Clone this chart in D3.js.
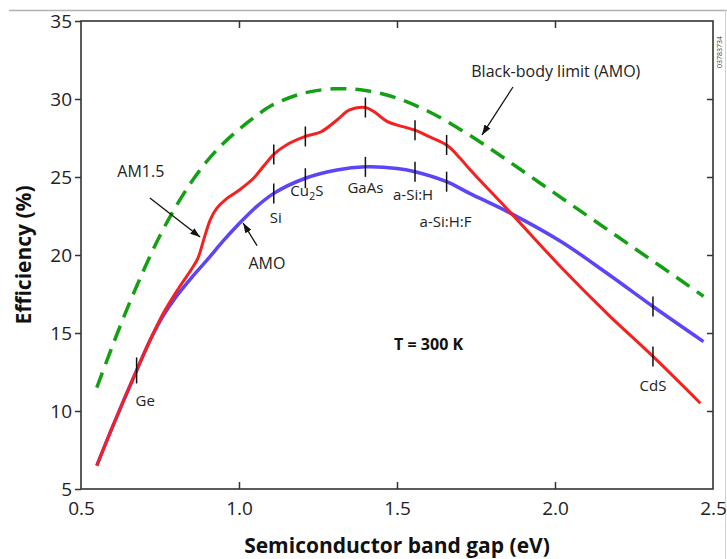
<!DOCTYPE html>
<html>
<head>
<meta charset="utf-8">
<script src="https://cdn.jsdelivr.net/npm/d3@7"></script>
<style>
  body { margin: 0; background: #fff; }
  svg text { font-family: "Open Sans", "Liberation Sans", sans-serif; }
</style>
</head>
<body>
<div id="chart"></div>
<script>
// data
var blackBodyGap = [0.55, 0.6, 0.65, 0.7, 0.75, 0.8, 0.85, 0.9, 0.95, 1.0, 1.05, 1.1, 1.2, 1.3, 1.4, 1.5, 1.6, 1.7, 1.8, 1.9, 2.0, 2.1, 2.2, 2.3, 2.4, 2.47];
var blackBodyEff = [11.5, 14.2, 16.75, 19.1, 21.25, 23.1, 24.7, 26.05, 27.15, 28.05, 28.85, 29.55, 30.35, 30.65, 30.55, 30.05, 29.2, 28.05, 26.75, 25.35, 23.95, 22.55, 21.15, 19.75, 18.35, 17.35];

var am15Gap = [0.55, 0.6, 0.676, 0.72, 0.76, 0.81, 0.85, 0.87, 0.89, 0.91, 0.93, 0.96, 1.0, 1.045, 1.08, 1.11, 1.15, 1.21, 1.26, 1.31, 1.35, 1.4, 1.43, 1.47, 1.557, 1.6, 1.657, 1.7, 1.73, 1.86, 2.02, 2.17, 2.31, 2.46];
var am15Eff = [6.5, 9.0, 12.6, 14.6, 16.25, 17.9, 19.1, 19.8, 21.1, 22.3, 23.0, 23.6, 24.15, 24.9, 25.75, 26.45, 27.05, 27.6, 27.9, 28.65, 29.3, 29.45, 29.15, 28.55, 28.0, 27.6, 27.05, 26.2, 25.5, 22.7, 19.2, 16.15, 13.5, 10.5];

var amoGap = [0.55, 0.6, 0.676, 0.72, 0.76, 0.8, 0.85, 0.9, 0.95, 1.0, 1.05, 1.11, 1.21, 1.31, 1.4, 1.5, 1.557, 1.657, 1.73, 1.86, 2.02, 2.17, 2.31, 2.47];
var amoEff = [6.5, 9.0, 12.6, 14.6, 16.1, 17.3, 18.55, 19.7, 20.9, 22.0, 23.0, 23.95, 24.92, 25.45, 25.65, 25.55, 25.34, 24.7, 23.95, 22.67, 20.85, 18.75, 16.7, 14.45];

var materials = ["Ge", "Si", "Cu2S", "GaAs", "a-Si:H", "a-Si:H:F", "CdS"];
var materialGap = [0.676, 1.11, 1.21, 1.40, 1.557, 1.657, 2.31];
var materialAm15 = [12.6, 26.45, 27.6, 29.45, 28.0, 27.05, 13.5];
var materialAmo = [null, 23.95, 24.92, 25.65, 25.34, 24.7, 16.7];

var xTicks = [0.5, 1.0, 1.5, 2.0, 2.5];
var yTicks = [5, 10, 15, 20, 25, 30, 35];

var width = 727, height = 559;
var margin = {top: 21, right: 14, bottom: 70, left: 81};
var plotW = width - margin.left - margin.right,
    plotH = height - margin.top - margin.bottom;

var svg = d3.select("#chart").append("svg")
    .attr("width", width)
    .attr("height", height);

// grey page edges
svg.append("line").attr("x1", 9).attr("x2", width).attr("y1", 10.5).attr("y2", 10.5)
    .attr("stroke", "#b0b0b0").attr("stroke-width", 1.5);
svg.append("line").attr("x1", 725.5).attr("x2", 725.5).attr("y1", 10).attr("y2", height)
    .attr("stroke", "#d0d0d0").attr("stroke-width", 1);

svg.append("text")
    .attr("transform", "translate(722,68) rotate(-90)")
    .style("font-size", "7px").attr("fill", "#444")
    .text("03783734");

var g = svg.append("g")
    .attr("transform", "translate(" + margin.left + "," + margin.top + ")");

var x = d3.scaleLinear().domain([0.5, 2.5]).range([0, plotW]);
var y = d3.scaleLinear().domain([5, 35]).range([plotH, 0]);

// axes
var axisColor = "#333";
var leftAxis = g.append("g")
    .call(d3.axisLeft(y).tickValues(yTicks).tickSize(6).tickSizeOuter(0).tickPadding(3).tickFormat(d3.format("d")));
var bottomAxis = g.append("g")
    .attr("transform", "translate(0," + plotH + ")")
    .call(d3.axisBottom(x).tickValues(xTicks).tickSize(-7).tickSizeOuter(0).tickPadding(13).tickFormat(d3.format(".1f")));
var topAxis = g.append("g")
    .call(d3.axisTop(x).tickValues([1.0, 1.5, 2.0]).tickSize(-7).tickSizeOuter(0).tickFormat(""));
var rightAxis = g.append("g")
    .attr("transform", "translate(" + plotW + ",0)")
    .call(d3.axisRight(y).tickValues([10, 15, 20, 25, 30]).tickSize(-6).tickSizeOuter(0).tickFormat(""));

[leftAxis, bottomAxis, topAxis, rightAxis].forEach(function(a) {
  a.select(".domain").remove();
  a.selectAll("line").attr("stroke", axisColor).attr("stroke-width", 1.5);
  a.selectAll("text").attr("fill", "#222").style("font-size", "19px");
});
bottomAxis.selectAll("line").filter(function(d) { return d === 0.5 || d === 2.5; }).remove();
leftAxis.selectAll("text").attr("dy", "0.36em");

g.append("rect")
    .attr("width", plotW).attr("height", plotH)
    .attr("fill", "none").attr("stroke", axisColor).attr("stroke-width", 1.6);

// axis titles
svg.append("text")
    .attr("x", margin.left + x(1.5)).attr("y", 553)
    .attr("text-anchor", "middle")
    .style("font-size", "21px").style("font-weight", "bold").attr("fill", "#111")
    .text("Semiconductor band gap (eV)");
svg.append("text")
    .attr("transform", "translate(31," + (margin.top + y(20)) + ") rotate(-90)")
    .attr("text-anchor", "middle")
    .style("font-size", "21px").style("font-weight", "bold").attr("fill", "#111")
    .text("Efficiency (%)");

// curves
var line = d3.line()
    .x(function(d) { return x(d[0]); })
    .y(function(d) { return y(d[1]); })
    .curve(d3.curveCatmullRom.alpha(0.5));

g.append("path")
    .datum(d3.zip(amoGap, amoEff))
    .attr("d", line)
    .attr("fill", "none").attr("stroke", "#5b45f5").attr("stroke-width", 3.5);

g.append("path")
    .datum(d3.zip(am15Gap, am15Eff))
    .attr("d", line)
    .attr("fill", "none").attr("stroke", "#f52020").attr("stroke-width", 3);

g.append("path")
    .datum(d3.zip(blackBodyGap, blackBodyEff))
    .attr("d", line)
    .attr("fill", "none").attr("stroke", "#14a014").attr("stroke-width", 3.5)
    .attr("stroke-dasharray", "16,9");

// material marks
materials.forEach(function(m, i) {
  var half = i === 0 ? 13 : 10;
  [materialAm15[i], materialAmo[i]].forEach(function(v) {
    if (v === null) return;
    g.append("line")
        .attr("x1", x(materialGap[i])).attr("x2", x(materialGap[i]))
        .attr("y1", y(v) - half).attr("y2", y(v) + half)
        .attr("stroke", "#111").attr("stroke-width", 1.5);
  });
});

var labelPos = [
  {name: "Ge", gap: 0.676, eff: 12.6, ox: -1, oy: 36, anchor: "start"},
  {name: "Si", gap: 1.11, eff: 23.95, ox: -4, oy: 30, anchor: "start"},
  {name: "Cu", gap: 1.21, eff: 24.92, ox: -15, oy: 18, anchor: "start", sub: "2", rest: "S"},
  {name: "GaAs", gap: 1.40, eff: 25.65, ox: 0, oy: 26, anchor: "middle"},
  {name: "a-Si:H", gap: 1.557, eff: 25.34, ox: -22, oy: 28, anchor: "start"},
  {name: "a-Si:H:F", gap: 1.657, eff: 24.7, ox: -27, oy: 45, anchor: "start"},
  {name: "CdS", gap: 2.31, eff: 13.5, ox: 0, oy: 35, anchor: "middle"}
];
labelPos.forEach(function(l) {
  var t = g.append("text")
      .attr("x", x(l.gap) + l.ox).attr("y", y(l.eff) + l.oy)
      .attr("text-anchor", l.anchor)
      .style("font-size", "15px").attr("fill", "#222")
      .text(l.name);
  if (l.sub) {
    t.append("tspan").attr("dy", 4).style("font-size", "11px").text(l.sub);
    t.append("tspan").attr("dy", -4).text(l.rest);
  }
});

g.append("text")
    .attr("x", x(1.6)).attr("y", y(13.9))
    .attr("text-anchor", "middle")
    .style("font-size", "16px").style("font-weight", "bold").attr("fill", "#111")
    .text("T = 300 K");

// annotations with arrows
svg.append("defs").append("marker")
    .attr("id", "arrow")
    .attr("viewBox", "0 0 10 10").attr("refX", 10).attr("refY", 5)
    .attr("markerWidth", 10).attr("markerHeight", 10)
    .attr("markerUnits", "userSpaceOnUse")
    .attr("orient", "auto")
  .append("path").attr("d", "M0,1.5 L10,5 L0,8.5 Z").attr("fill", "#111");

var notes = [
  {text: "AM1.5", tx: 0.615, ty: 25.0, x1: 0.718, y1: 23.65, x2: 0.877, y2: 21.15},
  {text: "AMO", tx: 1.03, ty: 19.1, x1: 1.057, y1: 20.6, x2: 1.013, y2: 22.05},
  {text: "Black-body limit (AMO)", tx: 1.735, ty: 31.4, x1: 1.867, y1: 30.77, x2: 1.769, y2: 27.7}
];
notes.forEach(function(n) {
  g.append("text")
      .attr("x", x(n.tx)).attr("y", y(n.ty))
      .style("font-size", "16px").attr("fill", "#222")
      .text(n.text);
  g.append("line")
      .attr("x1", x(n.x1)).attr("y1", y(n.y1))
      .attr("x2", x(n.x2)).attr("y2", y(n.y2))
      .attr("stroke", "#111").attr("stroke-width", 1.3)
      .attr("marker-end", "url(#arrow)");
});
</script>
</body>
</html>
